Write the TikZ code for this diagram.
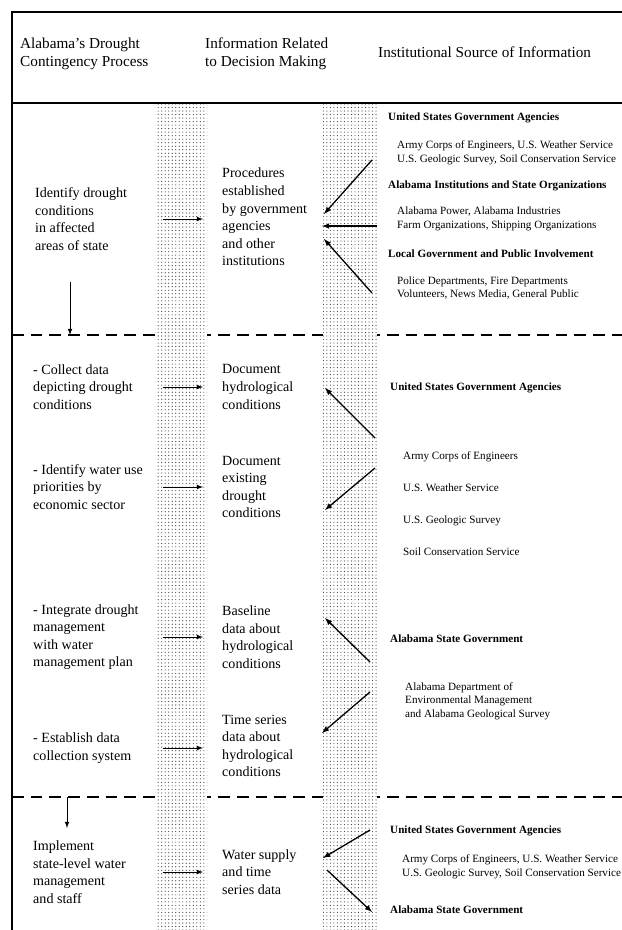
\documentclass[tikz,border=0pt]{standalone}
\usepackage{fontspec}
\setmainfont{Liberation Serif}
\usetikzlibrary{arrows,patterns}

\begin{document}
\begin{tikzpicture}[x=0.03cm,y=-0.03cm,>=latex,
strip/.style={fill=white,postaction={pattern=dots,pattern color=black!75}},
frame/.style={line width=1.3pt},
sep/.style={line width=1.1pt,dash pattern=on 10pt off 6pt},
flow/.style={->,line width=0.8pt},
link/.style={->,line width=1.1pt},
head/.style={anchor=west,align=left,inner sep=0pt,font=\fontsize{13}{15.5}\selectfont},
txt/.style={anchor=west,align=left,inner sep=0pt,font=\fontsize{12}{15}\selectfont},
src/.style={anchor=west,align=left,inner sep=0pt,font=\bfseries\fontsize{9.5}{11.5}\selectfont},
det/.style={anchor=west,align=left,inner sep=0pt,font=\fontsize{9.5}{11.5}\selectfont}]
\useasboundingbox (0,0) rectangle (622,930);
\coordinate (cut1) at (0,335);
\coordinate (cut2) at (0,797);
\coordinate (arrL) at (163,0);
\coordinate (arrR) at (203,0);
\draw[sep] (12,0 |- cut1) -- (622,0 |- cut1);
\draw[sep] (12,0 |- cut2) -- (622,0 |- cut2);
\path[strip] (155,103) rectangle (207,930);
\path[strip] (323,103) rectangle (377,930);
\draw[frame] (622,12) -- (12,12) -- (12,930);
\draw[frame] (12,103) -- (622,103);

\node[head] (hdrA) at (20,54) {Alabama's Drought\\Contingency Process};
\node[head] (hdrB) at (205,54) {Information Related\\to Decision Making};
\node[head] (hdrC) at (378,52) {Institutional Source of Information};

\node[txt] (proc1) at (35,219) {Identify drought\\conditions\\in affected\\areas of state};
\node[txt] (info1) at (222,217) {Procedures\\established\\by government\\agencies\\and other\\institutions};
\node[src] (usga1) at (388,118) {United States Government Agencies};
\node[det] (usga1d) at (397,153) {Army Corps of Engineers, U.S. Weather Service\\U.S. Geologic Survey, Soil Conservation Service};
\node[src] (alinst) at (388,186) {Alabama Institutions and State Organizations};
\node[det] (alinstd) at (397,219) {Alabama Power, Alabama Industries\\Farm Organizations, Shipping Organizations};
\node[src] (local) at (388,254) {Local Government and Public Involvement};
\node[det] (locald) at (397,288) {Police Departments, Fire Departments\\Volunteers, News Media, General Public};

\node[txt] (proc2) at (33,387) {- Collect data\\depicting drought\\conditions};
\node[txt] (info2) at (222,387) {Document\\hydrological\\conditions};
\node[txt] (proc3) at (33,487) {- Identify water use\\priorities by\\economic sector};
\node[txt] (info3) at (222,487) {Document\\existing\\drought\\conditions};
\node[src] (usga2) at (390,388) {United States Government Agencies};
\node[det,font=\fontsize{9.5}{27.3}\selectfont] (usga2d) at (403,504) {Army Corps of Engineers\\U.S. Weather Service\\U.S. Geologic Survey\\Soil Conservation Service};
\node[txt] (proc4) at (33,637) {- Integrate drought\\management\\with water\\management plan};
\node[txt] (info4) at (222,637) {Baseline\\data about\\hydrological\\conditions};
\node[txt] (proc5) at (33,748) {- Establish data\\collection system};
\node[txt] (info5) at (222,746) {Time series\\data about\\hydrological\\conditions};
\node[src] (alst2) at (390,639) {Alabama State Government};
\node[det] (alst2d) at (405,701) {Alabama Department of\\Environmental Management\\and Alabama Geological Survey};

\node[txt] (proc6) at (33,872) {Implement\\state-level water\\management\\and staff};
\node[txt] (info6) at (222,872) {Water supply\\and time\\series data};
\node[src] (usga3) at (390,831) {United States Government Agencies};
\node[det] (usga3d) at (402,867) {Army Corps of Engineers, U.S. Weather Service\\U.S. Geologic Survey, Soil Conservation Service};
\node[src] (alst3) at (390,910) {Alabama State Government};

\foreach \p in {proc1,proc2,proc3,proc4,proc5,proc6}
  \path[flow] (\p -| arrL) edge (\p -| arrR);

\coordinate (dn1) at (70,282);
\coordinate (dn2) at (67,828);
\path[flow] (dn1) edge (dn1 |- cut1);
\path[flow] (dn2 |- cut2) edge (dn2);

\coordinate (a1) at (372,160); \coordinate (b1) at (324,214);
\coordinate (a2) at (377,226); \coordinate (b2) at (322,226);
\coordinate (a3) at (372,293); \coordinate (b3) at (324,239);
\coordinate (a4) at (375,438); \coordinate (b4) at (325,388);
\coordinate (a5) at (375,468); \coordinate (b5) at (325,510);
\coordinate (a6) at (370,662); \coordinate (b6) at (325,618);
\coordinate (a7) at (370,692); \coordinate (b7) at (322,733);
\coordinate (a8) at (370,830); \coordinate (b8) at (323,858);
\coordinate (a9) at (327,870); \coordinate (b9) at (372,912);
\foreach \i in {1,...,9}
  \path[link] (a\i) edge (b\i);
\end{tikzpicture}
\end{document}
